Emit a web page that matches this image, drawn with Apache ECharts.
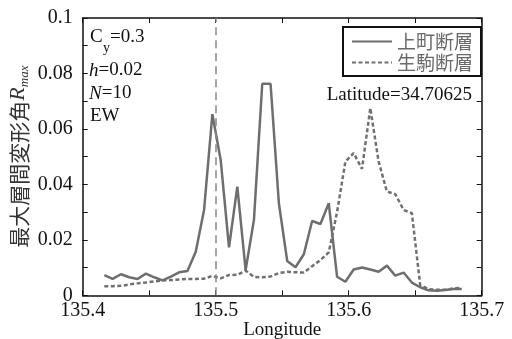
<!DOCTYPE html>
<html>
<head>
<meta charset="utf-8">
<script src="https://cdn.jsdelivr.net/npm/echarts@6/dist/echarts.min.js"></script>
<style>
html,body{margin:0;padding:0;background:#fff;}
#chart{width:512px;height:339px;}
</style>
</head>
<body>
<div id="chart"></div>
<script>
// longitudes of the sample points along latitude 34.70625
var lons = [135.41625,135.4225,135.42875,135.435,135.44125,135.4475,135.45375,135.46,135.46625,135.4725,
	135.47875,135.485,135.49125,135.4975,135.50375,135.51,135.51625,135.5225,135.52875,135.535,
	135.54125,135.5475,135.55375,135.56,135.56625,135.5725,135.57875,135.585,135.59125,135.5975,
	135.60375,135.61,135.61625,135.6225,135.62875,135.635,135.64125,135.6475,135.65375,135.66,
	135.66625,135.6725,135.67875,135.685];
// 上町断層
var uemachi = [0.0073,0.0059,0.0076,0.0065,0.0059,0.0078,0.0065,0.0054,0.0067,0.0083,
	0.0088,0.0157,0.0308,0.0653,0.0488,0.0173,0.0392,0.0091,0.0272,0.0763,
	0.0763,0.0332,0.0124,0.0101,0.0148,0.0268,0.0257,0.0332,0.0067,0.0049,
	0.0093,0.0100,0.0093,0.0085,0.0107,0.0071,0.0082,0.0046,0.0029,0.0018,
	0.0016,0.0019,0.0023,0.0023];
// 生駒断層
var ikoma = [0.0033,0.0033,0.0034,0.0039,0.0043,0.0046,0.0050,0.0053,0.0055,0.0057,
	0.0059,0.0059,0.0060,0.0070,0.0061,0.0073,0.0074,0.0089,0.0066,0.0065,
	0.0068,0.0080,0.0085,0.0083,0.0082,0.0105,0.0127,0.0155,0.0300,0.0482,
	0.0513,0.0456,0.0675,0.0482,0.0374,0.0365,0.0308,0.0296,0.0037,0.0022,
	0.0020,0.0020,0.0025,0.0027];
var markLon = 135.4985;
var xTicks = [135.4,135.5,135.6,135.7];
var yTicks = [0,0.02,0.04,0.06,0.08,0.1];

var serif = 'Liberation Serif';
var cjk = 'Noto Sans CJK JP';

function pairs(ys){
	var out = [];
	for(var i=0;i<lons.length;i++){
		out.push([lons[i],ys[i]]);
	}
	return out;
}
function near(list,v){
	for(var i=0;i<list.length;i++){
		if(Math.abs(list[i]-v)<1e-6) return true;
	}
	return false;
}

var axisLine = {show:true,onZero:false,lineStyle:{color:'#111',width:1.5}};
var tick = {show:true,inside:true,length:5,lineStyle:{color:'#111',width:1}};
var txt = function(t,left,top,italic,size){
	return {type:'text',left:left,top:top,
		style:{text:t,fontFamily:serif,fontStyle:italic?'italic':'normal',fontSize:size||19,fill:'#111'}};
};

var myChart = echarts.init(document.getElementById('chart'));
var option = {
	backgroundColor:'#fff',
	animation:false,
	grid:{left:82.7,right:30.3,top:18,bottom:43.7,containLabel:false,outerBoundsMode:'none'},
	legend:{
		orient:'vertical',right:31,top:27,
		itemWidth:40,itemHeight:10,itemGap:2,
		padding:[5,8,4,8],
		borderColor:'#111',borderWidth:2,backgroundColor:'#fff',
		itemStyle:{opacity:0},
		textStyle:{fontFamily:cjk,fontSize:19,color:'#6a6a6a'},
		data:['上町断層','生駒断層']
	},
	xAxis:[{
		type:'value',min:135.4,max:135.7,interval:0.05,
		name:'Longitude',nameLocation:'middle',nameGap:25,nameMoveOverlap:false,
		nameTextStyle:{fontFamily:serif,fontSize:19,color:'#111'},
		axisLine:axisLine,axisTick:tick,splitLine:{show:false},
		axisLabel:{margin:5,fontFamily:serif,fontSize:20,color:'#111',
			formatter:function(v){return near(xTicks,v)?String(Math.round(v*10)/10):'';}}
	},{
		type:'value',position:'top',min:135.4,max:135.7,interval:0.05,
		axisLine:axisLine,axisTick:tick,axisLabel:{show:false},splitLine:{show:false}
	}],
	yAxis:[{
		type:'value',min:0,max:0.1,interval:0.01,
		name:'{a|最大層間変形角}{r|R}{s|max}',nameLocation:'middle',nameGap:52,nameMoveOverlap:false,
		nameTextStyle:{
			rich:{
				a:{fontFamily:cjk,fontSize:21,color:'#333',lineHeight:24},
				r:{fontFamily:serif,fontStyle:'italic',fontSize:22,color:'#333',lineHeight:24},
				s:{fontFamily:serif,fontStyle:'italic',fontSize:13,color:'#333',verticalAlign:'bottom',lineHeight:24,padding:[11,0,0,0]}
			}
		},
		axisLine:axisLine,axisTick:tick,splitLine:{show:false},
		axisLabel:{margin:10,fontFamily:serif,fontSize:20,color:'#111',
			formatter:function(v){return near(yTicks,v)?String(Math.round(v*100)/100):'';}}
	},{
		type:'value',position:'right',min:0,max:0.1,interval:0.01,
		axisLine:axisLine,axisTick:tick,axisLabel:{show:false},splitLine:{show:false}
	}],
	graphic:[
		txt('C',90,28),
		txt('y',103,41,false,14),
		txt('=0.3',110,28),
		{type:'text',left:89,top:61,
			style:{text:'{i|h}{n|=0.02}',rich:{i:{fontFamily:serif,fontStyle:'italic',fontSize:19,fill:'#111'},n:{fontFamily:serif,fontSize:19,fill:'#111'}}}},
		{type:'text',left:89,top:84,
			style:{text:'{i|N}{n|=10}',rich:{i:{fontFamily:serif,fontStyle:'italic',fontSize:19,fill:'#111'},n:{fontFamily:serif,fontSize:19,fill:'#111'}}}},
		txt('EW',90,107),
		{type:'text',right:40,top:86,
			style:{text:'Latitude=34.70625',fontFamily:serif,fontSize:19,fill:'#111'}}
	],
	series:[{
		name:'上町断層',type:'line',data:pairs(uemachi),
		symbol:'none',
		lineStyle:{color:'#6e6e6e',width:2.5},
		itemStyle:{color:'#6e6e6e'},
		markLine:{
			silent:true,symbol:'none',label:{show:false},
			lineStyle:{color:'#888',width:1.5,type:[8,5]},
			data:[{xAxis:markLon}]
		}
	},{
		name:'生駒断層',type:'line',data:pairs(ikoma),
		symbol:'none',
		lineStyle:{color:'#707070',width:2.5,type:[4,2.5]},
		itemStyle:{color:'#707070'}
	}]
};
myChart.setOption(option);
</script>
</body>
</html>
